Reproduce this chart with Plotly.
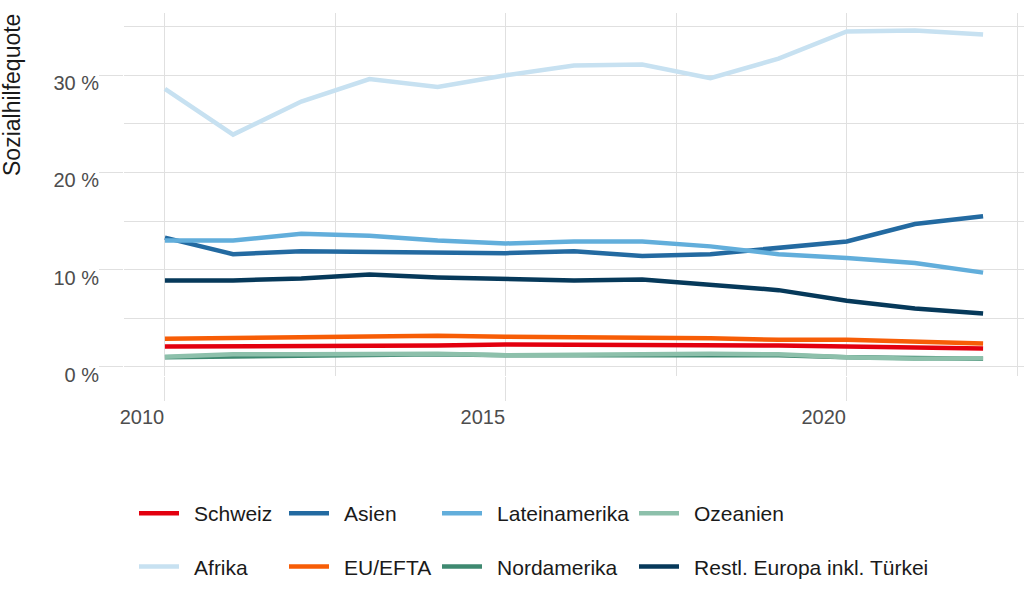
import plotly.graph_objects as go

years = list(range(2010, 2023))

schweiz = [2.1, 2.1, 2.2, 2.2, 2.2, 2.3, 2.3, 2.3, 2.3, 2.2, 2.1, 2.0, 1.9]
afrika = [28.6, 23.9, 27.3, 29.6, 28.8, 30.0, 31.0, 31.1, 29.7, 31.7, 34.5, 34.6, 34.2]
asien = [13.3, 11.6, 11.9, 11.8, 11.8, 11.7, 11.9, 11.4, 11.6, 12.3, 12.9, 14.7, 15.5]
eu_efta = [2.9, 3.0, 3.1, 3.2, 3.2, 3.1, 3.1, 3.0, 2.95, 2.8, 2.8, 2.6, 2.4]
lateinamerika = [13.0, 13.0, 13.7, 13.5, 13.0, 12.7, 12.9, 12.9, 12.4, 11.6, 11.2, 10.7, 9.7]
nordamerika = [1.0, 1.1, 1.2, 1.2, 1.3, 1.2, 1.2, 1.3, 1.3, 1.2, 1.0, 0.9, 0.85]
ozeanien = [1.05, 1.3, 1.3, 1.3, 1.35, 1.2, 1.2, 1.3, 1.35, 1.3, 1.0, 0.85, 0.9]
restl_europa = [8.9, 8.9, 9.1, 9.5, 9.2, 9.0, 8.9, 9.0, 8.5, 7.9, 6.8, 6.0, 5.5]

y_tickvals = [0, 10, 20, 30]
y_ticktext = ["0 %", "10 %", "20 %", "30 %"]
x_tickvals = [2010, 2015, 2020]

series = [
    ("Schweiz", schweiz, "#E3000F", "legend"),
    ("Afrika", afrika, "#C7E1F1", "legend"),
    ("Asien", asien, "#236AA1", "legend2"),
    ("EU/EFTA", eu_efta, "#F75D06", "legend2"),
    ("Lateinamerika", lateinamerika, "#62AEDB", "legend3"),
    ("Nordamerika", nordamerika, "#3E8970", "legend3"),
    ("Ozeanien", ozeanien, "#8DC0AB", "legend4"),
    ("Restl. Europa inkl. Türkei", restl_europa, "#06395A", "legend4"),
]

FONT = "Liberation Sans, Arial, sans-serif"
PAD = "\u00a0\u2009"

fig = go.Figure()
for name, vals, color, lg in series:
    fig.add_trace(go.Scatter(
        x=years, y=vals, name=PAD + name, mode="lines",
        line=dict(color=color, width=4.5),
        legend=lg, legendgroup=name,
    ))

W, H = 1024, 614
ml, mr, mt, mb = 124, 0, 13, 238
pw = W - ml - mr
ph = H - mt - mb

def px_x(px):
    return (px - ml) / pw

def px_y(py):
    return (H - mb - py) / ph

leg_common = dict(
    orientation="v", xanchor="left", yanchor="top",
    font=dict(family=FONT, size=21, color="#1A1A1A"),
    bgcolor="rgba(0,0,0,0)", tracegroupgap=23, itemwidth=40,
)
cols = [134, 284, 437, 634]
legends = {}
for i, key in enumerate(["legend", "legend2", "legend3", "legend4"]):
    legends[key] = dict(leg_common, x=px_x(cols[i]), y=px_y(493))

grid = "#E0E0E0"
tickfont = dict(family=FONT, size=20, color="#4D4D4D")
fig.update_layout(
    width=W, height=H,
    margin=dict(l=ml, r=mr, t=mt, b=mb, autoexpand=False),
    plot_bgcolor="white", paper_bgcolor="white",
    showlegend=True,
    font=dict(family=FONT),
    xaxis=dict(
        range=[2009.4, 2022.6], tickvals=x_tickvals,
        showgrid=True, gridcolor=grid, gridwidth=1.3,
        ticks="outside", ticklen=24, tickcolor=grid, tickwidth=1.3,
        tickfont=tickfont, ticklabelshift=-23, ticklabelstandoff=-1,
        minor=dict(tickvals=[2012.5, 2017.5, 2022.5], showgrid=True,
                   gridcolor=grid, gridwidth=1.3),
        zeroline=False, showline=False, automargin=False,
    ),
    yaxis=dict(
        range=[-0.93, 36.4], tickvals=y_tickvals, ticktext=y_ticktext,
        showgrid=True, gridcolor=grid, gridwidth=1.3,
        ticks="outside", ticklen=24, tickcolor=grid, tickwidth=1.3,
        tickfont=tickfont, ticklabelshift=8, ticklabelstandoff=-4,
        minor=dict(tickvals=[5, 15, 25, 35], showgrid=True,
                   gridcolor=grid, gridwidth=1.3),
        zeroline=False, showline=False, automargin=False,
    ),
    annotations=[dict(
        text="Sozialhilfequote", textangle=-90,
        xref="paper", yref="paper", x=px_x(0), y=1,
        xanchor="left", yanchor="top", showarrow=False,
        xshift=-3, yshift=1,
        font=dict(family=FONT, size=23, color="#1A1A1A"),
    )],
    **legends,
)

fig.write_html("out.html", config={"displayModeBar": False},
               post_script="document.body.style.margin='0';")
